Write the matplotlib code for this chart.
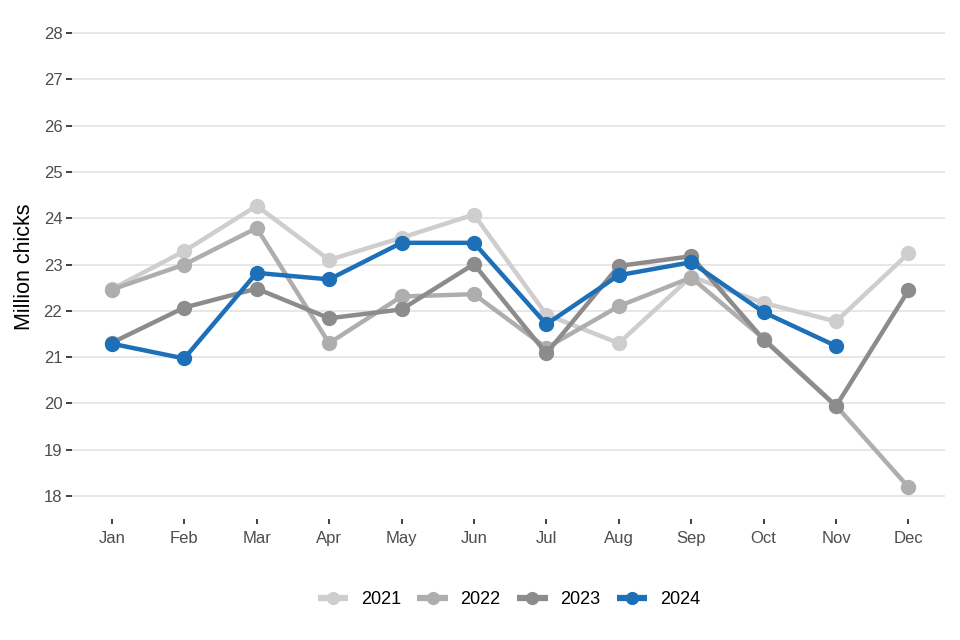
import numpy as np
import matplotlib
matplotlib.use("Agg")
import matplotlib.pyplot as plt

plt.rcParams['font.family'] = ['Liberation Sans', 'DejaVu Sans']

months = ["Jan", "Feb", "Mar", "Apr", "May", "Jun",
          "Jul", "Aug", "Sep", "Oct", "Nov", "Dec"]

chicks_2021 = [22.47, 23.29, 24.27, 23.10, 23.58, 24.08, 21.92, 21.30, 22.74, 22.17, 21.77, 23.24]
chicks_2022 = [22.46, 23.00, 23.79, 21.30, 22.31, 22.36, 21.20, 22.10, 22.72, 21.40, 19.95, 18.19]
chicks_2023 = [21.31, 22.07, 22.48, 21.84, 22.03, 23.01, 21.08, 22.97, 23.18, 21.38, 19.94, 22.44]
chicks_2024 = [21.29, 20.97, 22.82, 22.68, 23.47, 23.47, 21.71, 22.77, 23.05, 21.97, 21.24]

series = [
    ("2021", chicks_2021, "#cfcdcd"),
    ("2022", chicks_2022, "#b0adad"),
    ("2023", chicks_2023, "#8e8b8b"),
    ("2024", chicks_2024, "#1d70b8"),
]

fig = plt.figure(figsize=(9.6, 6.4), dpi=100)
ax = fig.add_axes([0.075, 0.189, 0.909, 0.788])

for name, vals, col in series:
    x = np.arange(len(vals))
    ax.plot(x, vals, color=col, linewidth=3.2, marker="o", markersize=10,
            label=name, solid_capstyle="butt")

ax.set_xticks(np.arange(len(months)))
ax.set_xticklabels(months)
ax.set_yticks(np.arange(18, 29, 1))
ax.set_xlim(-0.55, 11.5)
ax.set_ylim(17.5, 28.4)

ax.grid(axis="y", color="#e5e5e5", linewidth=1.3)
ax.set_axisbelow(True)
for s in ax.spines.values():
    s.set_visible(False)
ax.tick_params(axis="x", length=3.5, width=1.3, color="#333333", pad=5,
               labelsize=12, labelcolor="#4d4d4d")
ax.tick_params(axis="y", length=4, width=1.3, color="#333333", pad=3,
               labelsize=12, labelcolor="#4d4d4d")
ax.set_ylabel("Million chicks", fontsize=15.5, labelpad=6)

# legend centred on the panel, not the figure
leg = fig.legend(loc="center", bbox_to_anchor=(0.53, 1 - 600 / 640), ncol=4,
                 frameon=False, fontsize=13, handlelength=1.7,
                 columnspacing=0.9, handletextpad=0.7, markerscale=0.85)
for h in leg.legend_handles:
    h.set_linewidth(4.5)

fig.savefig("out.png", dpi=100)
